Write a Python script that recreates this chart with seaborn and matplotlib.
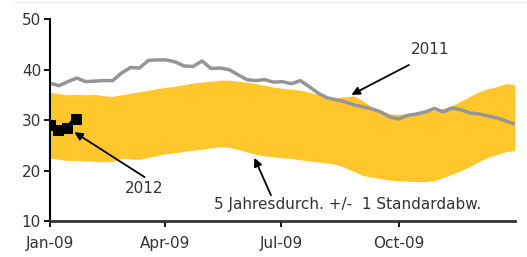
import pandas as pd
import matplotlib.pyplot as plt
import matplotlib.dates as mdates
from matplotlib.lines import Line2D
import seaborn as sns

# wöchentliche Werte 2009 (Achse Jan-09 .. Dez-09)
weeks = pd.date_range("2009-01-01", periods=53, freq="7D")

band_upper = [35.5, 35.2, 35.0, 35.1, 35.0, 35.1, 34.8, 34.7, 35.0, 35.3,
              35.6, 35.9, 36.2, 36.5, 36.7, 37.0, 37.3, 37.5, 37.7, 37.9,
              37.9, 37.7, 37.5, 37.2, 36.9, 36.5, 36.3, 36.1, 35.9, 35.5,
              35.0, 34.6, 34.4, 34.6, 34.8, 33.8, 32.6, 31.8, 31.2, 31.1,
              31.3, 31.5, 31.7, 31.9, 32.3, 32.9, 33.8, 34.7, 35.6, 36.2,
              36.6, 37.2, 37.0]
band_lower = [22.5, 22.2, 22.0, 22.0, 21.9, 21.8, 21.7, 21.8, 22.4, 22.3,
              22.2, 22.6, 23.0, 23.3, 23.5, 23.8, 24.0, 24.2, 24.5, 24.7,
              24.6, 24.2, 23.7, 23.2, 22.9, 22.7, 22.5, 22.4, 22.1, 21.9,
              21.7, 21.5, 21.2, 20.6, 19.8, 19.0, 18.7, 18.4, 18.1, 18.0,
              17.9, 17.8, 17.8, 18.0, 18.6, 19.3, 20.0, 20.8, 21.8, 22.6,
              23.2, 23.7, 24.0]
line_2011 = [37.3, 36.8, 37.6, 38.3, 37.6, 37.7, 37.8, 37.8, 39.3, 40.4,
             40.3, 41.8, 41.9, 41.9, 41.5, 40.7, 40.6, 41.7, 40.2, 40.3,
             40.0, 39.0, 38.0, 37.8, 38.0, 37.5, 37.6, 37.2, 37.8, 36.6,
             35.3, 34.4, 34.0, 33.6, 33.0, 32.6, 32.2, 31.6, 30.6, 30.2,
             30.9, 31.2, 31.6, 32.3, 31.6, 32.4, 32.0, 31.4, 31.2, 30.8,
             30.4, 29.8, 29.2]

dates_2012 = pd.to_datetime(["2009-01-01", "2009-01-07", "2009-01-14", "2009-01-21"])
line_2012 = [29.0, 28.1, 28.5, 30.3]

df11 = pd.DataFrame({"datum": weeks, "wert": line_2011})
df12 = pd.DataFrame({"datum": dates_2012, "wert": line_2012})

sns.set_style("white")
plt.rcParams["font.family"] = ["DejaVu Sans"]
plt.rcParams["font.size"] = 11

fig = plt.figure(figsize=(5.27, 2.57), dpi=100)
ax = fig.add_axes([0.095, 0.14, 0.882, 0.786])

# feine Linie am oberen Rand
fig.add_artist(Line2D([0.027, 1.0], [0.993, 0.993], transform=fig.transFigure,
                      color="#eeeeee", lw=1))

# Band 5 Jahresdurchschnitt +/- 1 Standardabweichung
ax.fill_between(weeks, band_lower, band_upper, color="#FFC72C", lw=0)
sns.lineplot(data=df11, x="datum", y="wert", ax=ax, color="#959595", lw=2.5)
sns.lineplot(data=df12, x="datum", y="wert", ax=ax, color="black", lw=2.8,
             marker="s", markersize=7.5, markeredgecolor="black")

ax.set_xlim(pd.Timestamp("2009-01-01"), pd.Timestamp("2009-12-31"))
ax.set_ylim(10, 50)
ax.set_yticks([10, 20, 30, 40, 50])
ax.set_xticks(pd.to_datetime(["2009-01-01", "2009-04-01", "2009-07-01", "2009-10-01"]))
ax.xaxis.set_major_formatter(mdates.DateFormatter("%b-%y"))
ax.set_xlabel("")
ax.set_ylabel("")

for s in ["top", "right"]:
    ax.spines[s].set_visible(False)
ax.spines["left"].set_color("black")
ax.spines["left"].set_linewidth(1.5)
ax.spines["bottom"].set_color("#333333")
ax.spines["bottom"].set_linewidth(2)
ax.tick_params(axis="both", direction="out", length=4, width=1.3, color="black",
               labelcolor="#333333", labelsize=11, bottom=True, left=True)
ax.tick_params(axis="x", pad=7)
ax.tick_params(axis="y", pad=2.5)

pfeil = dict(arrowstyle="-|>", color="black", lw=1.3, mutation_scale=12,
             shrinkA=0, shrinkB=0)
txt = "#333333"

ax.annotate("", xy=(pd.Timestamp("2009-08-25"), 35.0),
            xytext=(pd.Timestamp("2009-10-09"), 40.9), arrowprops=pfeil)
ax.text(pd.Timestamp("2009-10-26"), 43.9, "2011", ha="center", va="center", color=txt)

ax.annotate("", xy=(pd.Timestamp("2009-01-20"), 27.6),
            xytext=(pd.Timestamp("2009-03-16"), 18.7), arrowprops=pfeil)
ax.text(pd.Timestamp("2009-03-16"), 16.5, "2012", ha="center", va="center", color=txt)

ax.annotate("", xy=(pd.Timestamp("2009-06-10"), 22.5),
            xytext=(pd.Timestamp("2009-06-23"), 15.1), arrowprops=pfeil)
ax.text(pd.Timestamp("2009-08-22"), 13.2, "5 Jahresdurch. +/-  1 Standardabw.",
        ha="center", va="center", color=txt)

fig.savefig("out.png", dpi=100)
